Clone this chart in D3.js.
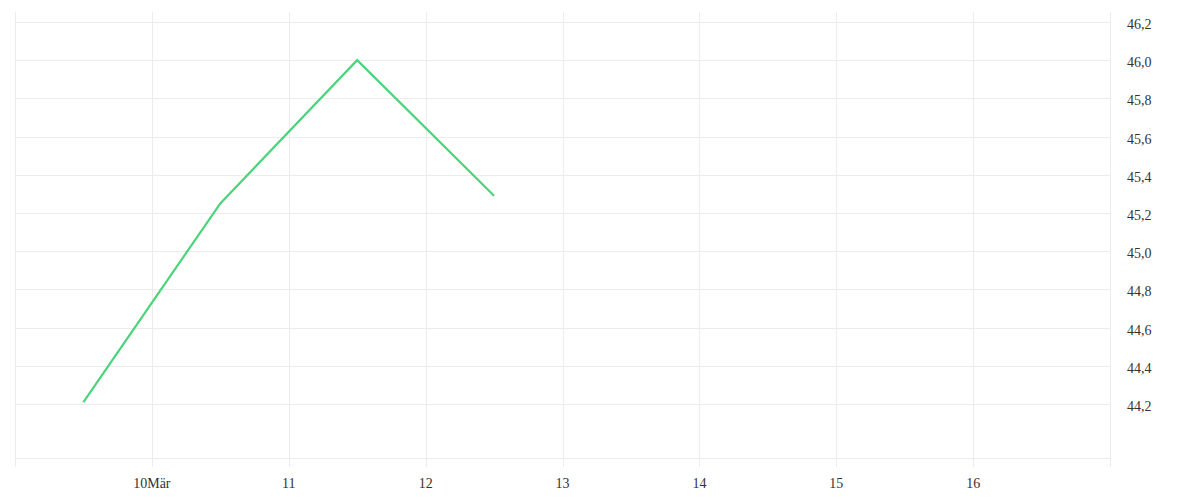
<!DOCTYPE html>
<html>
<head>
<meta charset="utf-8">
<script src="https://cdn.jsdelivr.net/npm/d3@7"></script>
<style>
    body { margin: 0; background: #fff; }
    text { font-family: "Liberation Serif", "Times New Roman", serif; font-size: 14px; fill: #333; }
</style>
</head>
<body>
<div id="chart"></div>
<script>
// days in March (noon timestamps), closing values
const days = [9.5, 10.5, 11.5, 12.5];
const values = [44.21, 45.25, 46.0, 45.29];

const xTicks = [10, 11, 12, 13, 14, 15, 16];
const xTickLabels = ["10Mär", "11", "12", "13", "14", "15", "16"];
const yTicks = [44.2, 44.4, 44.6, 44.8, 45.0, 45.2, 45.4, 45.6, 45.8, 46.0, 46.2];

const width = 1200;
const height = 500;

const plotLeft = 15, plotRight = 1110, plotTop = 12, plotBottom = 458;

const svg = d3.select("#chart")
    .append("svg")
    .attr("width", width)
    .attr("height", height);

const x = d3.scaleLinear()
    .domain([9, 17])
    .range([plotLeft, plotRight]);

const y = d3.scaleLinear()
    .domain([43.917, 46.252])
    .range([plotBottom, plotTop]);

// horizontal grid
svg.selectAll("line.hgrid")
    .data(yTicks)
    .enter()
    .append("line")
    .attr("class", "hgrid")
    .attr("x1", plotLeft)
    .attr("x2", plotRight)
    .attr("y1", function(d) { return Math.round(y(d)) + 0.5; })
    .attr("y2", function(d) { return Math.round(y(d)) + 0.5; })
    .attr("stroke", "#ececec");

// bottom border line
svg.append("line")
    .attr("x1", plotLeft)
    .attr("x2", plotRight)
    .attr("y1", plotBottom + 0.5)
    .attr("y2", plotBottom + 0.5)
    .attr("stroke", "#ececec");

// vertical grid (incl. edges)
svg.selectAll("line.vgrid")
    .data([9].concat(xTicks).concat([17]))
    .enter()
    .append("line")
    .attr("class", "vgrid")
    .attr("x1", function(d) { return Math.round(x(d)) + 0.5; })
    .attr("x2", function(d) { return Math.round(x(d)) + 0.5; })
    .attr("y1", plotTop)
    .attr("y2", plotBottom + 9)
    .attr("stroke", "#ececec");

// x labels
svg.selectAll("text.xlab")
    .data(xTicks)
    .enter()
    .append("text")
    .attr("class", "xlab")
    .attr("x", function(d) { return x(d); })
    .attr("y", 488)
    .attr("text-anchor", "middle")
    .text(function(d, i) { return xTickLabels[i]; });

// y labels on the right
svg.selectAll("text.ylab")
    .data(yTicks)
    .enter()
    .append("text")
    .attr("class", "ylab")
    .attr("x", 1127)
    .attr("y", function(d) { return y(d); })
    .attr("dy", "0.5em")
    .text(function(d) { return d3.format(".1f")(d).replace(".", ","); });

// line
const line = d3.line()
    .x(function(d, i) { return x(days[i]); })
    .y(function(d) { return y(d); });

svg.append("path")
    .datum(values)
    .attr("d", line)
    .attr("fill", "none")
    .attr("stroke", "#4cd37b")
    .attr("stroke-width", 2.2);
</script>
</body>
</html>
